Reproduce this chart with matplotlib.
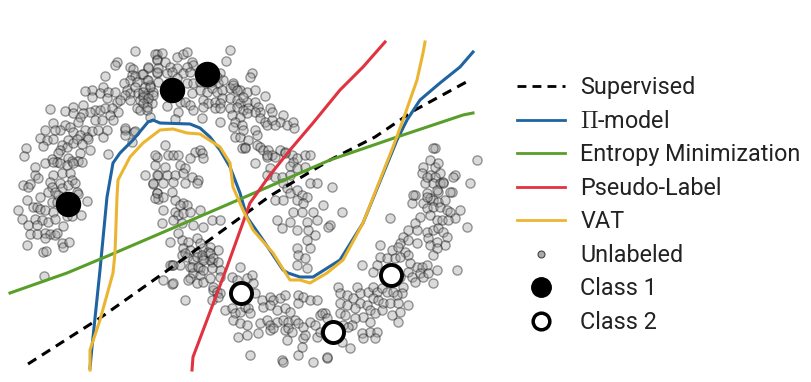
import numpy as np
import matplotlib
matplotlib.use("Agg")
import matplotlib.pyplot as plt
from matplotlib.lines import Line2D

plt.rcParams['font.family'] = ['Roboto', 'DejaVu Sans']
plt.rcParams['mathtext.fontset'] = 'cm'

# ---- data (image-pixel coordinates) ----
supervised_x = [28, 100, 175, 270, 330, 375, 415, 470]
supervised_y = [364, 318, 265, 196, 160, 137, 110, 80]

pi_x = [90, 92, 100, 107, 113, 120, 133, 148, 153, 160, 190, 200, 210, 220, 230, 240, 247, 263, 283, 288, 300, 313, 340, 363, 397, 407, 420, 440, 460, 473]
pi_y = [368, 347, 270, 197, 163, 153, 140, 122, 120, 123, 124, 128, 137, 150, 167, 193, 217, 240, 270, 273, 277, 277, 260, 223, 140, 120, 100, 83, 67, 52]

vat_x = [90, 90, 100, 113, 115, 117, 118, 130, 143, 160, 173, 187, 200, 220, 230, 233, 243, 253, 273, 290, 300, 310, 327, 343, 363, 393, 403, 417, 423, 425]
vat_y = [370, 350, 320, 273, 253, 197, 180, 157, 143, 130, 129, 133, 134, 147, 163, 187, 210, 230, 253, 280, 280, 283, 273, 260, 223, 147, 120, 80, 53, 42]

pseudo_x = [192, 193, 227, 250, 270, 290, 313, 340, 363, 385]
pseudo_y = [370, 357, 267, 203, 175, 150, 123, 90, 67, 42]

entropy_x = [10, 67, 110, 173, 245, 330, 397, 463, 473]
entropy_y = [293, 273, 255, 228, 197, 160, 137, 115, 113]

class1_x = [172, 207, 68]
class1_y = [90, 74, 204]
class2_x = [241, 391, 333]
class2_y = [293, 275, 332]

unlabeled_pts = [
    (135,51),(157,54),(157,59),(117,62),(115,65),(130,67),(133,69),(148,68),(157,73),(105,76),
    (132,75),(135,76),(130,80),(137,82),(142,74),(147,80),(150,85),(124,83),(127,90),(130,93),
    (125,95),(135,87),(138,93),(143,95),(148,93),(153,92),(103,87),(92,90),(85,91),(100,93),
    (108,92),(115,92),(92,97),(107,98),(117,102),(120,100),(130,100),(140,100),(147,102),(152,103),
    (83,105),(73,107),(65,111),(50,109),(137,108),(140,110),(147,110),(95,110),(100,110),(105,108),
    (112,108),(118,112),(110,115),(90,112),(83,113),(80,117),(73,113),(53,123),(78,122),(95,120),
    (102,120),(113,120),(65,125),(70,127),(60,130),(73,132),(85,130),(92,131),(45,130),(55,130),
    (80,135),(87,137),(98,130),(107,130),(125,130),(134,132),(40,138),(47,140),(53,139),(68,140),
    (77,139),(88,139),(103,137),(125,135),(43,146),(62,145),(67,147),(73,143),(82,144),(90,150),
    (80,153),(60,150),(58,153),(26,148),(24,156),(108,154),(52,159),(57,162),(68,158),(72,161),
    (78,161),(82,162),(45,163),(35,167),(157,157),(150,117),
    (53,162),(60,163),(67,165),(73,163),(35,175),(38,178),(53,175),
    (62,173),(70,173),(72,180),(23,185),(30,184),(28,187),(50,182),(52,187),(60,183),(62,188),
    (68,185),(75,183),(48,192),(55,192),(58,195),(77,192),(78,194),(40,197),(27,200),(87,201),
    (52,202),(57,202),(33,207),(37,207),(40,209),(45,210),(53,212),(18,210),(63,209),(67,216),
    (72,216),(81,215),(22,219),(35,219),(42,220),(48,222),(55,219),(28,225),(37,225),(63,226),
    (30,234),(37,234),(45,233),(50,234),(55,235),(57,233),(45,238),(27,245),(62,243),(63,247),
    (69,242),(43,252),(46,251),(44,276),(145,175),(158,175),(153,184),(157,193),(158,199),
    (230,50),(155,54),(162,53),(177,57),(183,54),(187,52),(226,61),(157,60),(165,62),(192,62),
    (193,65),(187,67),(148,67),(158,68),(170,67),(177,68),(183,73),(190,72),(143,74),(148,80),
    (157,72),(167,73),(172,72),(220,73),(217,77),(252,73),(250,77),(158,82),(177,78),(187,83),
    (193,83),(200,82),(207,83),(212,82),(218,83),(223,80),(233,83),(235,88),(145,87),(150,87),
    (143,92),(153,95),(230,88),(240,90),(200,90),(207,92),(212,88),(217,92),(222,90),(247,92),
    (255,90),(192,93),(265,96),(143,97),(148,98),(180,102),(185,102),(190,105),(203,100),(208,103),
    (215,102),(222,98),(220,103),(230,98),(237,100),(240,103),(247,102),(255,102),(143,103),(147,107),
    (167,106),(193,110),(203,107),(215,108),(220,108),(230,108),(237,107),(243,110),(248,108),(258,107),
    (260,112),(270,108),(272,112),(178,112),(175,119),(202,118),(220,122),(232,115),(240,117),(235,122),
    (233,127),(242,125),(255,112),(260,118),(265,122),(267,125),(283,115),(280,122),(287,125),(293,122),
    (294,128),(272,120),(275,125),(255,130),(257,135),(235,137),(240,137),(242,148),(245,147),(257,145),
    (260,147),(263,150),(268,150),(267,157),(272,155),(280,150),(285,152),(292,155),(293,162),(297,158),
    (165,145),(168,155),(173,155),(178,155),(195,152),(200,150),(202,153),(190,158),
    (255,163),(290,166),(233,85),(237,90),(243,97),(247,113),
    (243,130),(248,140),(245,148),(132,142),(125,128),(135,131),
    (155,155),(203,158),(155,165),(165,167),(180,165),(185,168),(157,175),(167,175),(175,175),(183,173),
    (192,177),(198,180),(153,183),(163,183),(173,182),(185,183),(197,183),(157,193),(172,192),(155,198),
    (163,197),(175,200),(183,203),(187,205),(163,210),(175,212),(178,215),(183,213),(190,212),(200,210),
    (162,223),(173,220),(182,223),(193,225),(212,220),(220,220),(203,227),(170,242),(182,240),(188,242),
    (197,238),(183,248),(190,250),(197,252),(203,248),(210,247),(218,250),(182,255),(187,257),(193,260),
    (203,258),(212,262),(172,265),(180,265),(190,267),(200,268),(193,273),(200,275),(240,267),
    (267,155),(275,157),(285,153),(305,155),(310,155),(270,168),(267,175),(275,177),(282,177),(290,175),
    (297,168),(305,167),(283,183),(287,188),(290,193),(297,190),(302,195),(307,197),(310,183),(317,183),
    (275,200),(283,200),(297,200),(303,203),(293,212),(302,212),(313,212),(277,220),(282,228),(290,222),
    (307,222),(317,220),(297,230),(308,230),(315,235),(307,240),(310,248),(297,248),(298,255),(305,258),
    (297,265),(307,268),
    (180,205),(178,233),(200,243),(208,252),(170,265),(210,260),(220,270),(163,280),
    (172,284),(190,278),(213,290),
    (173,265),(185,253),(197,257),(202,255),(203,260),(210,253),(213,258),(218,262),(192,267),(198,267),
    (203,270),(212,268),(173,283),(188,280),(197,283),(203,282),(210,278),(220,277),(213,287),(217,292),
    (220,293),(232,277),(237,280),(247,278),(252,275),(253,283),(212,300),(218,297),(225,310),(232,308),
    (235,313),(240,312),(245,307),(248,308),(250,313),(255,293),(262,300),(270,297),(273,300),(280,298),
    (285,295),(298,295),(303,297),(310,300),(317,300),(298,303),(263,307),(270,305),(277,310),(285,308),
    (290,312),(233,320),(240,323),(247,325),(260,323),(267,320),(270,325),(277,322),(283,320),(288,322),
    (295,320),(298,323),(303,327),(310,322),(315,325),(320,315),(325,313),(238,337),(247,335),(258,333),
    (270,330),(273,328),(285,330),(288,328),(292,332),(303,338),(305,335),(317,337),(320,332),(287,340),
    (250,355),(298,355),(302,347),(282,360),(283,362),(313,362),(327,358),(185,300),
    (435,148),(477,160),(430,160),(423,167),(435,167),(438,163),(440,173),(422,173),(430,175),(435,177),
    (455,175),(425,183),(433,183),(440,183),(443,182),(470,183),(438,192),(452,192),(415,195),(427,193),
    (430,198),(433,200),(438,202),(445,200),(412,203),(423,203),(427,208),(433,207),(440,207),(447,210),
    (450,212),(460,210),(455,218),(467,227),(420,217),(430,215),(437,220),(442,220),(448,220),(415,223),
    (408,230),(417,230),(427,232),(433,230),(438,228),(443,232),(447,237),(403,237),(400,243),(408,240),
    (417,243),(428,238),(430,245),(437,242),(445,245),(390,218),(380,245),(392,250),(398,247),(405,252),
    (408,255),(433,255),(437,248),(380,257),(387,258),(395,258),(400,257),(362,265),(410,263),(417,267),
    (422,267),(427,265),(408,272),(412,277),(420,273),(423,277),(428,273),(437,270),(457,270),(415,282),
    (433,283),(377,265),(373,272),(400,277),(403,287),(402,293),(338,287),(340,293),(347,295),(357,287),
    (360,293),(368,292),(373,287),(377,292),(382,288),(387,292),(393,292),(397,295),(373,298),(378,300),
    (383,303),(390,303),(398,303),(408,305),(353,298),(360,303),(367,305),(340,303),(347,305),(355,308),
    (370,310),(375,313),(382,310),(392,315),(400,312),(398,322),(363,317),(370,322),(355,318),(352,325),
    (322,313),(327,318),(340,313),(345,315),(325,332),(330,327),(343,325),(348,327),(362,333),(370,332),
    (377,332),(363,338),(375,338),(342,342),(350,348),(327,357),(332,187),(323,205),(342,212),(330,225),
    (328,227),(433,148),(427,177),(443,183),(453,177),(413,195),(427,197),(437,190),(450,192),
]
unlabeled_x = [p[0] for p in unlabeled_pts]
unlabeled_y = [p[1] for p in unlabeled_pts]

legend_labels = ["Supervised", r"$\Pi$-model", "Entropy Minimization", "Pseudo-Label", "VAT",
                 "Unlabeled", "Class 1", "Class 2"]

c_blue = "#1f64a0"
c_green = "#5a9e2a"
c_red = "#e0323f"
c_yellow = "#ebb531"

fig = plt.figure(figsize=(8.11, 3.82), dpi=100)
ax = fig.add_axes([0, 0, 490 / 811, 1])
ax.set_xlim(0, 490)
ax.set_ylim(382, 0)
ax.axis("off")

ax.scatter(unlabeled_x, unlabeled_y, s=44, c="#a0a0a0", alpha=0.38, edgecolors="k", linewidths=1.0, zorder=1)
ax.plot(supervised_x, supervised_y, color="k", lw=2.2, ls=(0, (3.2, 2.2)), zorder=3)
ax.plot(pi_x, pi_y, color=c_blue, lw=2.2, zorder=3)
ax.plot(entropy_x, entropy_y, color=c_green, lw=2.2, zorder=3)
ax.plot(pseudo_x, pseudo_y, color=c_red, lw=2.2, zorder=3)
ax.plot(vat_x, vat_y, color=c_yellow, lw=2.2, zorder=3)
ax.scatter(class1_x, class1_y, s=300, c="k", zorder=4)
ax.scatter(class2_x, class2_y, s=230, c="white", edgecolors="k", linewidths=2.8, zorder=4)

handles = [
    Line2D([], [], color="k", lw=2, ls=(0, (3.2, 2.2))),
    Line2D([], [], color=c_blue, lw=2),
    Line2D([], [], color=c_green, lw=2),
    Line2D([], [], color=c_red, lw=2),
    Line2D([], [], color=c_yellow, lw=2),
    Line2D([], [], ls="none", marker="o", ms=5, mfc="#aaaaaa", mec="#444444", mew=0.8),
    Line2D([], [], ls="none", marker="o", ms=14, mfc="k", mec="k"),
    Line2D([], [], ls="none", marker="o", ms=12, mfc="white", mec="k", mew=2.5),
]
fig.legend(handles, legend_labels, loc="center left", bbox_to_anchor=(505 / 811, 1 - 205 / 382),
           frameon=False, fontsize=16.8, handlelength=2.05, handletextpad=0.68, labelspacing=0.45,
           borderpad=0, labelcolor="#222222")

fig.savefig("out.png", dpi=100)
